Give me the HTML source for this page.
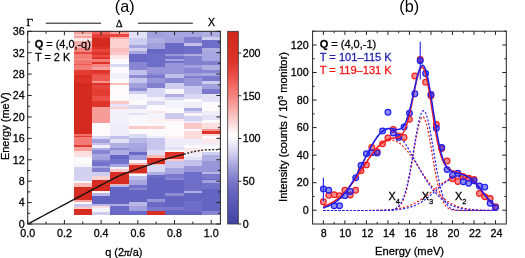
<!DOCTYPE html><html><head><meta charset="utf-8"><style>html,body{margin:0;padding:0;background:#fff;width:525px;height:258px;overflow:hidden}svg{display:block;will-change:transform}text{font-family:"Liberation Sans", sans-serif;stroke:currentColor;stroke-width:0.28px}text[fill]{}</style></head><body>
<svg width="525" height="258" viewBox="0 0 525 258" style="color:#000">
<rect width="525" height="258" fill="#fff"/>
<g shape-rendering="crispEdges">
<rect x="73.58" y="31.30" width="18.35" height="2.68" fill="#f7a19d"/>
<rect x="73.58" y="33.98" width="18.35" height="2.14" fill="#fac8c6"/>
<rect x="73.58" y="36.12" width="18.35" height="2.14" fill="#f7a19d"/>
<rect x="73.58" y="38.26" width="18.35" height="2.68" fill="#fce8e8"/>
<rect x="73.58" y="40.94" width="18.35" height="7.49" fill="#f8aeab"/>
<rect x="73.58" y="48.43" width="18.35" height="3.75" fill="#f58782"/>
<rect x="73.58" y="52.18" width="18.35" height="2.14" fill="#e7453d"/>
<rect x="73.58" y="54.32" width="18.35" height="4.28" fill="#f37c76"/>
<rect x="73.58" y="58.60" width="18.35" height="1.61" fill="#f69490"/>
<rect x="73.58" y="60.21" width="18.35" height="3.75" fill="#f2756f"/>
<rect x="73.58" y="63.95" width="18.35" height="1.07" fill="#ee5952"/>
<rect x="73.58" y="65.02" width="18.35" height="4.82" fill="#f37c76"/>
<rect x="73.58" y="69.84" width="18.35" height="3.21" fill="#e33d33"/>
<rect x="73.58" y="73.05" width="18.35" height="2.14" fill="#e33d33"/>
<rect x="73.58" y="75.19" width="18.35" height="2.68" fill="#d82e24"/>
<rect x="73.58" y="77.87" width="18.35" height="4.82" fill="#dc3228"/>
<rect x="73.58" y="82.69" width="18.35" height="50.85" fill="#d42a20"/>
<rect x="73.58" y="133.54" width="18.35" height="2.46" fill="#f1706a"/>
<rect x="73.58" y="136.00" width="18.35" height="1.28" fill="#e33d33"/>
<rect x="73.58" y="137.29" width="18.35" height="7.49" fill="#f37c76"/>
<rect x="73.58" y="144.78" width="18.35" height="2.68" fill="#e33d33"/>
<rect x="73.58" y="147.46" width="18.35" height="4.01" fill="#f7a19d"/>
<rect x="73.58" y="151.47" width="18.35" height="5.62" fill="#fbdede"/>
<rect x="73.58" y="157.09" width="18.35" height="6.96" fill="#fdfafb"/>
<rect x="73.58" y="164.05" width="18.35" height="2.68" fill="#f5f4fb"/>
<rect x="73.58" y="166.73" width="18.35" height="14.45" fill="#d3d1f0"/>
<rect x="73.58" y="181.18" width="18.35" height="2.14" fill="#faf9fc"/>
<rect x="73.58" y="183.32" width="18.35" height="4.01" fill="#f9bbb8"/>
<rect x="73.58" y="187.33" width="18.35" height="13.11" fill="#d62c22"/>
<rect x="73.58" y="200.45" width="18.35" height="1.61" fill="#f7a19d"/>
<rect x="73.58" y="202.05" width="18.35" height="2.14" fill="#faf9fc"/>
<rect x="73.58" y="204.19" width="18.35" height="2.68" fill="#c8c6ec"/>
<rect x="73.58" y="206.87" width="18.35" height="2.14" fill="#fac8c6"/>
<rect x="73.58" y="209.01" width="18.35" height="5.78" fill="#d62c22"/>
<rect x="91.93" y="31.30" width="18.35" height="2.68" fill="#f0655e"/>
<rect x="91.93" y="33.98" width="18.35" height="1.07" fill="#e7453d"/>
<rect x="91.93" y="35.05" width="18.35" height="3.21" fill="#e33d33"/>
<rect x="91.93" y="38.26" width="18.35" height="9.10" fill="#d42a20"/>
<rect x="91.93" y="47.36" width="18.35" height="1.61" fill="#dc3228"/>
<rect x="91.93" y="48.96" width="18.35" height="3.21" fill="#e7453d"/>
<rect x="91.93" y="52.18" width="18.35" height="2.68" fill="#de342a"/>
<rect x="91.93" y="54.85" width="18.35" height="2.14" fill="#ec4e46"/>
<rect x="91.93" y="56.99" width="18.35" height="1.61" fill="#de342a"/>
<rect x="91.93" y="58.60" width="18.35" height="3.21" fill="#f37c76"/>
<rect x="91.93" y="61.81" width="18.35" height="2.68" fill="#dc3228"/>
<rect x="91.93" y="64.49" width="18.35" height="2.14" fill="#f58782"/>
<rect x="91.93" y="66.63" width="18.35" height="3.21" fill="#f7a19d"/>
<rect x="91.93" y="69.84" width="18.35" height="3.21" fill="#de342a"/>
<rect x="91.93" y="73.05" width="18.35" height="2.14" fill="#e7453d"/>
<rect x="91.93" y="75.19" width="18.35" height="5.35" fill="#ee5952"/>
<rect x="91.93" y="80.55" width="18.35" height="2.14" fill="#f69490"/>
<rect x="91.93" y="82.69" width="18.35" height="2.68" fill="#de342a"/>
<rect x="91.93" y="85.36" width="18.35" height="3.21" fill="#e7453d"/>
<rect x="91.93" y="88.57" width="18.35" height="7.49" fill="#e33d33"/>
<rect x="91.93" y="96.07" width="18.35" height="5.35" fill="#ec4e46"/>
<rect x="91.93" y="101.42" width="18.35" height="5.89" fill="#de342a"/>
<rect x="91.93" y="107.31" width="18.35" height="16.06" fill="#f79c98"/>
<rect x="91.93" y="123.37" width="18.35" height="12.63" fill="#fcfafb"/>
<rect x="91.93" y="136.00" width="18.35" height="3.43" fill="#dad9f3"/>
<rect x="91.93" y="139.43" width="18.35" height="3.75" fill="#a2a0dd"/>
<rect x="91.93" y="143.17" width="18.35" height="2.14" fill="#c2c0ea"/>
<rect x="91.93" y="145.31" width="18.35" height="2.68" fill="#eeedf9"/>
<rect x="91.93" y="147.99" width="18.35" height="2.14" fill="#afade2"/>
<rect x="91.93" y="150.13" width="18.35" height="4.28" fill="#8886d2"/>
<rect x="91.93" y="154.41" width="18.35" height="2.68" fill="#a8a6e0"/>
<rect x="91.93" y="157.09" width="18.35" height="2.68" fill="#a2a0dd"/>
<rect x="91.93" y="159.77" width="18.35" height="2.68" fill="#8281d0"/>
<rect x="91.93" y="162.44" width="18.35" height="3.21" fill="#7372ca"/>
<rect x="91.93" y="165.65" width="18.35" height="2.68" fill="#a8a6e0"/>
<rect x="91.93" y="168.33" width="18.35" height="3.75" fill="#8281d0"/>
<rect x="91.93" y="172.08" width="18.35" height="4.28" fill="#cfceef"/>
<rect x="91.93" y="176.36" width="18.35" height="3.21" fill="#fbd2d0"/>
<rect x="91.93" y="179.57" width="18.35" height="11.24" fill="#d52b21"/>
<rect x="91.93" y="190.81" width="18.35" height="2.14" fill="#fdf3f3"/>
<rect x="91.93" y="192.95" width="18.35" height="2.68" fill="#b9b7e6"/>
<rect x="91.93" y="195.63" width="18.35" height="8.03" fill="#6464c3"/>
<rect x="91.93" y="203.66" width="18.35" height="2.68" fill="#b9b7e6"/>
<rect x="91.93" y="206.34" width="18.35" height="2.14" fill="#fbdede"/>
<rect x="91.93" y="208.48" width="18.35" height="3.48" fill="#f5f4fb"/>
<rect x="91.93" y="211.96" width="18.35" height="2.84" fill="#cfceef"/>
<rect x="110.29" y="31.30" width="18.35" height="2.68" fill="#f7a19d"/>
<rect x="110.29" y="33.98" width="18.35" height="3.21" fill="#e7453d"/>
<rect x="110.29" y="37.19" width="18.35" height="2.14" fill="#f8aeab"/>
<rect x="110.29" y="39.33" width="18.35" height="9.10" fill="#fbd2d0"/>
<rect x="110.29" y="48.43" width="18.35" height="3.75" fill="#f9c0be"/>
<rect x="110.29" y="52.18" width="18.35" height="3.21" fill="#fac8c6"/>
<rect x="110.29" y="55.39" width="18.35" height="3.21" fill="#fce8e8"/>
<rect x="110.29" y="58.60" width="18.35" height="5.89" fill="#faf9fc"/>
<rect x="110.29" y="64.49" width="18.35" height="2.14" fill="#dad9f3"/>
<rect x="110.29" y="66.63" width="18.35" height="6.42" fill="#fdfafb"/>
<rect x="110.29" y="73.05" width="18.35" height="6.42" fill="#f3f2fa"/>
<rect x="110.29" y="79.48" width="18.35" height="3.21" fill="#fcfafb"/>
<rect x="110.29" y="82.69" width="18.35" height="2.14" fill="#f9bbb8"/>
<rect x="110.29" y="84.83" width="18.35" height="16.59" fill="#fdfafb"/>
<rect x="110.29" y="101.42" width="18.35" height="2.68" fill="#fac8c6"/>
<rect x="110.29" y="104.10" width="18.35" height="3.21" fill="#e6e5f7"/>
<rect x="110.29" y="107.31" width="18.35" height="2.14" fill="#fbd2d0"/>
<rect x="110.29" y="109.45" width="18.35" height="13.92" fill="#f3f2fa"/>
<rect x="110.29" y="123.37" width="18.35" height="12.63" fill="#eeedf9"/>
<rect x="110.29" y="136.00" width="18.35" height="3.43" fill="#c2c0ea"/>
<rect x="110.29" y="139.43" width="18.35" height="3.21" fill="#e2e1f5"/>
<rect x="110.29" y="142.64" width="18.35" height="5.35" fill="#afade2"/>
<rect x="110.29" y="147.99" width="18.35" height="2.14" fill="#8e8cd5"/>
<rect x="110.29" y="150.13" width="18.35" height="4.82" fill="#afade2"/>
<rect x="110.29" y="154.95" width="18.35" height="4.28" fill="#6464c3"/>
<rect x="110.29" y="159.23" width="18.35" height="4.28" fill="#7372ca"/>
<rect x="110.29" y="163.51" width="18.35" height="3.21" fill="#a8a6e0"/>
<rect x="110.29" y="166.73" width="18.35" height="2.14" fill="#f3f2fa"/>
<rect x="110.29" y="168.87" width="18.35" height="2.68" fill="#fac8c6"/>
<rect x="110.29" y="171.54" width="18.35" height="12.04" fill="#d62c22"/>
<rect x="110.29" y="183.59" width="18.35" height="1.61" fill="#f8aeab"/>
<rect x="110.29" y="185.19" width="18.35" height="1.34" fill="#b9b7e6"/>
<rect x="110.29" y="186.53" width="18.35" height="17.13" fill="#6464c3"/>
<rect x="110.29" y="203.66" width="18.35" height="2.68" fill="#afade2"/>
<rect x="110.29" y="206.34" width="18.35" height="8.46" fill="#6a6ac6"/>
<rect x="128.64" y="31.30" width="18.35" height="6.42" fill="#e2e1f5"/>
<rect x="128.64" y="37.72" width="18.35" height="7.49" fill="#cfceef"/>
<rect x="128.64" y="45.22" width="18.35" height="2.68" fill="#a8a6e0"/>
<rect x="128.64" y="47.89" width="18.35" height="2.68" fill="#cfceef"/>
<rect x="128.64" y="50.57" width="18.35" height="3.21" fill="#a8a6e0"/>
<rect x="128.64" y="53.78" width="18.35" height="8.03" fill="#6a6ac6"/>
<rect x="128.64" y="61.81" width="18.35" height="8.03" fill="#8886d2"/>
<rect x="128.64" y="69.84" width="18.35" height="4.28" fill="#c2c0ea"/>
<rect x="128.64" y="74.12" width="18.35" height="1.07" fill="#c8c6ec"/>
<rect x="128.64" y="75.19" width="18.35" height="2.68" fill="#8e8cd5"/>
<rect x="128.64" y="77.87" width="18.35" height="5.35" fill="#c8c6ec"/>
<rect x="128.64" y="83.22" width="18.35" height="4.82" fill="#a2a0dd"/>
<rect x="128.64" y="88.04" width="18.35" height="3.21" fill="#8e8cd5"/>
<rect x="128.64" y="91.25" width="18.35" height="2.68" fill="#cfceef"/>
<rect x="128.64" y="93.93" width="18.35" height="5.89" fill="#f5f4fb"/>
<rect x="128.64" y="99.82" width="18.35" height="4.82" fill="#fdfafb"/>
<rect x="128.64" y="104.63" width="18.35" height="4.82" fill="#dad9f3"/>
<rect x="128.64" y="109.45" width="18.35" height="3.21" fill="#f5f4fb"/>
<rect x="128.64" y="112.66" width="18.35" height="2.36" fill="#e2e1f5"/>
<rect x="128.64" y="115.02" width="18.35" height="10.49" fill="#f8f7fb"/>
<rect x="128.64" y="125.51" width="18.35" height="3.21" fill="#fac8c6"/>
<rect x="128.64" y="128.72" width="18.35" height="5.09" fill="#fdfafb"/>
<rect x="128.64" y="133.81" width="18.35" height="4.55" fill="#dad9f3"/>
<rect x="128.64" y="138.36" width="18.35" height="4.28" fill="#b9b7e6"/>
<rect x="128.64" y="142.64" width="18.35" height="5.35" fill="#a8a6e0"/>
<rect x="128.64" y="147.99" width="18.35" height="3.75" fill="#a2a0dd"/>
<rect x="128.64" y="151.74" width="18.35" height="3.75" fill="#6a6ac6"/>
<rect x="128.64" y="155.48" width="18.35" height="4.28" fill="#9e9cdc"/>
<rect x="128.64" y="159.77" width="18.35" height="3.21" fill="#f5f4fb"/>
<rect x="128.64" y="162.98" width="18.35" height="1.61" fill="#f8aeab"/>
<rect x="128.64" y="164.58" width="18.35" height="8.03" fill="#d62c22"/>
<rect x="128.64" y="172.61" width="18.35" height="1.61" fill="#f7a19d"/>
<rect x="128.64" y="174.22" width="18.35" height="2.14" fill="#faf9fc"/>
<rect x="128.64" y="176.36" width="18.35" height="3.75" fill="#c2c0ea"/>
<rect x="128.64" y="180.11" width="18.35" height="4.82" fill="#a8a6e0"/>
<rect x="128.64" y="184.92" width="18.35" height="2.68" fill="#7372ca"/>
<rect x="128.64" y="187.60" width="18.35" height="2.14" fill="#8886d2"/>
<rect x="128.64" y="189.74" width="18.35" height="11.78" fill="#6464c3"/>
<rect x="128.64" y="201.52" width="18.35" height="4.82" fill="#b9b7e6"/>
<rect x="128.64" y="206.34" width="18.35" height="5.09" fill="#a2a0dd"/>
<rect x="128.64" y="211.42" width="18.35" height="3.37" fill="#6a6ac6"/>
<rect x="146.99" y="31.30" width="18.35" height="6.42" fill="#a2a0dd"/>
<rect x="146.99" y="37.72" width="18.35" height="5.35" fill="#afade2"/>
<rect x="146.99" y="43.08" width="18.35" height="5.89" fill="#a2a0dd"/>
<rect x="146.99" y="48.96" width="18.35" height="5.35" fill="#6666c4"/>
<rect x="146.99" y="54.32" width="18.35" height="12.31" fill="#6e6ec8"/>
<rect x="146.99" y="66.63" width="18.35" height="6.42" fill="#9896d9"/>
<rect x="146.99" y="73.05" width="18.35" height="2.14" fill="#8e8cd5"/>
<rect x="146.99" y="75.19" width="18.35" height="2.68" fill="#7a79cd"/>
<rect x="146.99" y="77.87" width="18.35" height="4.82" fill="#9896d9"/>
<rect x="146.99" y="82.69" width="18.35" height="5.35" fill="#8281d0"/>
<rect x="146.99" y="88.04" width="18.35" height="5.89" fill="#dad9f3"/>
<rect x="146.99" y="93.93" width="18.35" height="3.21" fill="#dad9f3"/>
<rect x="146.99" y="97.14" width="18.35" height="2.68" fill="#f3f2fa"/>
<rect x="146.99" y="99.82" width="18.35" height="1.61" fill="#fdf3f3"/>
<rect x="146.99" y="101.42" width="18.35" height="3.21" fill="#dad9f3"/>
<rect x="146.99" y="104.63" width="18.35" height="5.89" fill="#fcfafb"/>
<rect x="146.99" y="110.52" width="18.35" height="2.68" fill="#fce8e8"/>
<rect x="146.99" y="113.20" width="18.35" height="5.35" fill="#f5f4fb"/>
<rect x="146.99" y="118.55" width="18.35" height="4.28" fill="#fdf3f3"/>
<rect x="146.99" y="122.83" width="18.35" height="3.21" fill="#fbf9fc"/>
<rect x="146.99" y="126.04" width="18.35" height="2.68" fill="#fbd2d0"/>
<rect x="146.99" y="128.72" width="18.35" height="7.28" fill="#fcfafb"/>
<rect x="146.99" y="136.00" width="18.35" height="2.36" fill="#eeedf9"/>
<rect x="146.99" y="138.36" width="18.35" height="11.78" fill="#c8c6ec"/>
<rect x="146.99" y="150.13" width="18.35" height="5.35" fill="#deddf4"/>
<rect x="146.99" y="155.48" width="18.35" height="2.14" fill="#f9bbb8"/>
<rect x="146.99" y="157.63" width="18.35" height="5.89" fill="#d82e24"/>
<rect x="146.99" y="163.51" width="18.35" height="1.61" fill="#f9bbb8"/>
<rect x="146.99" y="165.12" width="18.35" height="6.42" fill="#dad9f3"/>
<rect x="146.99" y="171.54" width="18.35" height="3.75" fill="#afade2"/>
<rect x="146.99" y="175.29" width="18.35" height="2.68" fill="#6e6ec8"/>
<rect x="146.99" y="177.97" width="18.35" height="20.88" fill="#6464c3"/>
<rect x="146.99" y="198.84" width="18.35" height="2.68" fill="#9896d9"/>
<rect x="146.99" y="201.52" width="18.35" height="5.35" fill="#6a6ac6"/>
<rect x="146.99" y="206.87" width="18.35" height="4.55" fill="#7a79cd"/>
<rect x="146.99" y="211.42" width="18.35" height="3.37" fill="#d82e24"/>
<rect x="165.34" y="31.30" width="18.35" height="6.42" fill="#a8a6e0"/>
<rect x="165.34" y="37.72" width="18.35" height="5.35" fill="#a2a0dd"/>
<rect x="165.34" y="43.08" width="18.35" height="10.71" fill="#6a6ac6"/>
<rect x="165.34" y="53.78" width="18.35" height="2.68" fill="#9896d9"/>
<rect x="165.34" y="56.46" width="18.35" height="2.14" fill="#7372ca"/>
<rect x="165.34" y="58.60" width="18.35" height="2.14" fill="#a2a0dd"/>
<rect x="165.34" y="60.74" width="18.35" height="2.14" fill="#6e6ec8"/>
<rect x="165.34" y="62.88" width="18.35" height="11.24" fill="#9896d9"/>
<rect x="165.34" y="74.12" width="18.35" height="3.75" fill="#c2c0ea"/>
<rect x="165.34" y="77.87" width="18.35" height="4.82" fill="#8886d2"/>
<rect x="165.34" y="82.69" width="18.35" height="5.89" fill="#cfceef"/>
<rect x="165.34" y="88.57" width="18.35" height="5.35" fill="#f5f4fb"/>
<rect x="165.34" y="93.93" width="18.35" height="2.68" fill="#afade2"/>
<rect x="165.34" y="96.60" width="18.35" height="3.21" fill="#dad9f3"/>
<rect x="165.34" y="99.82" width="18.35" height="8.03" fill="#f5f4fb"/>
<rect x="165.34" y="107.84" width="18.35" height="4.82" fill="#fdfafb"/>
<rect x="165.34" y="112.66" width="18.35" height="5.89" fill="#cccaed"/>
<rect x="165.34" y="118.55" width="18.35" height="2.68" fill="#fce8e8"/>
<rect x="165.34" y="121.23" width="18.35" height="4.28" fill="#fcfafb"/>
<rect x="165.34" y="125.51" width="18.35" height="10.49" fill="#fdfafb"/>
<rect x="165.34" y="136.00" width="18.35" height="2.36" fill="#fdf3f3"/>
<rect x="165.34" y="138.36" width="18.35" height="8.56" fill="#eeedf9"/>
<rect x="165.34" y="146.92" width="18.35" height="2.68" fill="#e2e1f5"/>
<rect x="165.34" y="149.60" width="18.35" height="2.68" fill="#faf9fc"/>
<rect x="165.34" y="152.27" width="18.35" height="3.21" fill="#dc3228"/>
<rect x="165.34" y="155.48" width="18.35" height="3.75" fill="#e0372e"/>
<rect x="165.34" y="159.23" width="18.35" height="2.14" fill="#fac8c6"/>
<rect x="165.34" y="161.37" width="18.35" height="6.42" fill="#c8c6ec"/>
<rect x="165.34" y="167.80" width="18.35" height="5.89" fill="#a8a6e0"/>
<rect x="165.34" y="173.68" width="18.35" height="4.28" fill="#7a79cd"/>
<rect x="165.34" y="177.97" width="18.35" height="2.14" fill="#8886d2"/>
<rect x="165.34" y="180.11" width="18.35" height="13.38" fill="#6464c3"/>
<rect x="165.34" y="193.49" width="18.35" height="2.68" fill="#8e8cd5"/>
<rect x="165.34" y="196.17" width="18.35" height="10.71" fill="#6464c3"/>
<rect x="165.34" y="206.87" width="18.35" height="2.68" fill="#7a79cd"/>
<rect x="165.34" y="209.55" width="18.35" height="5.25" fill="#6464c3"/>
<rect x="183.70" y="31.30" width="18.35" height="5.89" fill="#a8a6e0"/>
<rect x="183.70" y="37.19" width="18.35" height="5.35" fill="#8281d0"/>
<rect x="183.70" y="42.54" width="18.35" height="3.21" fill="#c2c0ea"/>
<rect x="183.70" y="45.75" width="18.35" height="8.03" fill="#6e6ec8"/>
<rect x="183.70" y="53.78" width="18.35" height="2.68" fill="#afade2"/>
<rect x="183.70" y="56.46" width="18.35" height="8.56" fill="#8281d0"/>
<rect x="183.70" y="65.02" width="18.35" height="3.21" fill="#a2a0dd"/>
<rect x="183.70" y="68.23" width="18.35" height="4.82" fill="#8886d2"/>
<rect x="183.70" y="73.05" width="18.35" height="2.68" fill="#a2a0dd"/>
<rect x="183.70" y="75.73" width="18.35" height="2.41" fill="#8281d0"/>
<rect x="183.70" y="78.14" width="18.35" height="7.76" fill="#9896d9"/>
<rect x="183.70" y="85.90" width="18.35" height="8.03" fill="#c8c6ec"/>
<rect x="183.70" y="93.93" width="18.35" height="5.35" fill="#dad9f3"/>
<rect x="183.70" y="99.28" width="18.35" height="3.21" fill="#faf9fc"/>
<rect x="183.70" y="102.49" width="18.35" height="5.35" fill="#eeedf9"/>
<rect x="183.70" y="107.84" width="18.35" height="2.68" fill="#afade2"/>
<rect x="183.70" y="110.52" width="18.35" height="2.14" fill="#d3d1f0"/>
<rect x="183.70" y="112.66" width="18.35" height="3.21" fill="#fdf3f3"/>
<rect x="183.70" y="115.87" width="18.35" height="4.82" fill="#d3d1f0"/>
<rect x="183.70" y="120.69" width="18.35" height="2.68" fill="#eeedf9"/>
<rect x="183.70" y="123.37" width="18.35" height="5.35" fill="#fac8c6"/>
<rect x="183.70" y="128.72" width="18.35" height="2.68" fill="#fbf9fc"/>
<rect x="183.70" y="131.40" width="18.35" height="8.03" fill="#fbdbda"/>
<rect x="183.70" y="139.43" width="18.35" height="5.89" fill="#eeedf9"/>
<rect x="183.70" y="145.31" width="18.35" height="2.68" fill="#fcfafb"/>
<rect x="183.70" y="147.99" width="18.35" height="4.82" fill="#fce8e8"/>
<rect x="183.70" y="152.81" width="18.35" height="4.28" fill="#eeedf9"/>
<rect x="183.70" y="157.09" width="18.35" height="3.21" fill="#e2e1f5"/>
<rect x="183.70" y="160.30" width="18.35" height="5.89" fill="#c2c0ea"/>
<rect x="183.70" y="166.19" width="18.35" height="5.35" fill="#9896d9"/>
<rect x="183.70" y="171.54" width="18.35" height="19.27" fill="#6e6ec8"/>
<rect x="183.70" y="190.81" width="18.35" height="2.68" fill="#afade2"/>
<rect x="183.70" y="193.49" width="18.35" height="7.49" fill="#6464c3"/>
<rect x="183.70" y="200.98" width="18.35" height="11.24" fill="#6e6ec8"/>
<rect x="183.70" y="212.22" width="18.35" height="2.57" fill="#6262c1"/>
<rect x="202.05" y="31.30" width="18.35" height="6.16" fill="#afade2"/>
<rect x="202.05" y="37.46" width="18.35" height="2.94" fill="#cfceef"/>
<rect x="202.05" y="40.40" width="18.35" height="7.49" fill="#6e6ec8"/>
<rect x="202.05" y="47.89" width="18.35" height="2.68" fill="#afade2"/>
<rect x="202.05" y="50.57" width="18.35" height="10.71" fill="#a8a6e0"/>
<rect x="202.05" y="61.28" width="18.35" height="3.75" fill="#8281d0"/>
<rect x="202.05" y="65.02" width="18.35" height="4.82" fill="#afade2"/>
<rect x="202.05" y="69.84" width="18.35" height="3.21" fill="#8886d2"/>
<rect x="202.05" y="73.05" width="18.35" height="2.68" fill="#a8a6e0"/>
<rect x="202.05" y="75.73" width="18.35" height="4.82" fill="#7a79cd"/>
<rect x="202.05" y="80.55" width="18.35" height="3.75" fill="#cfceef"/>
<rect x="202.05" y="84.29" width="18.35" height="4.82" fill="#a2a0dd"/>
<rect x="202.05" y="89.11" width="18.35" height="5.35" fill="#7a79cd"/>
<rect x="202.05" y="94.46" width="18.35" height="8.03" fill="#e2e1f5"/>
<rect x="202.05" y="102.49" width="18.35" height="8.03" fill="#fdfafb"/>
<rect x="202.05" y="110.52" width="18.35" height="4.50" fill="#eeedf9"/>
<rect x="202.05" y="115.02" width="18.35" height="5.14" fill="#e2e1f5"/>
<rect x="202.05" y="120.16" width="18.35" height="3.21" fill="#fcfafb"/>
<rect x="202.05" y="123.37" width="18.35" height="5.35" fill="#fbdede"/>
<rect x="202.05" y="128.72" width="18.35" height="2.68" fill="#f69490"/>
<rect x="202.05" y="131.40" width="18.35" height="2.68" fill="#de342a"/>
<rect x="202.05" y="134.07" width="18.35" height="1.93" fill="#fbdede"/>
<rect x="202.05" y="136.00" width="18.35" height="3.43" fill="#fbf9fc"/>
<rect x="202.05" y="139.43" width="18.35" height="3.21" fill="#fce8e8"/>
<rect x="202.05" y="142.64" width="18.35" height="2.68" fill="#eeedf9"/>
<rect x="202.05" y="145.31" width="18.35" height="3.21" fill="#faf9fc"/>
<rect x="202.05" y="148.53" width="18.35" height="3.75" fill="#fcfafb"/>
<rect x="202.05" y="152.27" width="18.35" height="3.21" fill="#cfceef"/>
<rect x="202.05" y="155.48" width="18.35" height="5.89" fill="#afade2"/>
<rect x="202.05" y="161.37" width="18.35" height="10.17" fill="#9896d9"/>
<rect x="202.05" y="171.54" width="18.35" height="2.68" fill="#b9b7e6"/>
<rect x="202.05" y="174.22" width="18.35" height="4.82" fill="#7a79cd"/>
<rect x="202.05" y="179.04" width="18.35" height="1.07" fill="#6a6ac6"/>
<rect x="202.05" y="180.11" width="18.35" height="2.68" fill="#a2a0dd"/>
<rect x="202.05" y="182.78" width="18.35" height="6.42" fill="#7372ca"/>
<rect x="202.05" y="189.21" width="18.35" height="21.95" fill="#6464c3"/>
<rect x="202.05" y="211.15" width="18.35" height="3.64" fill="#8886d2"/>
</g>
<path d="M27.70,224.00 L29.93,222.81 L32.75,221.32 L36.05,219.56 L39.76,217.59 L43.79,215.45 L48.06,213.19 L52.47,210.85 L56.94,208.47 L61.38,206.12 L65.72,203.82 L69.85,201.63 L73.70,199.60 L77.44,197.62 L81.29,195.58 L85.20,193.51 L89.12,191.43 L93.02,189.36 L96.85,187.34 L100.57,185.38 L104.13,183.50 L107.50,181.75 L110.63,180.13 L113.48,178.67 L116.00,177.40 L118.14,176.35 L119.90,175.50 L121.35,174.83 L122.54,174.30 L123.54,173.88 L124.39,173.55 L125.17,173.27 L125.94,173.01 L126.74,172.75 L127.65,172.45 L128.71,172.07 L130.00,171.60 L131.47,171.05 L133.04,170.48 L134.70,169.89 L136.41,169.29 L138.16,168.68 L139.94,168.07 L141.72,167.46 L143.48,166.85 L145.21,166.26 L146.89,165.68 L148.49,165.13 L150.00,164.60 L151.41,164.10 L152.75,163.62 L154.01,163.15 L155.23,162.70 L156.41,162.26 L157.58,161.83 L158.73,161.41 L159.90,160.99 L161.10,160.57 L162.34,160.15 L163.63,159.73 L165.00,159.30 L166.49,158.85 L168.13,158.38 L169.87,157.89 L171.68,157.40 L173.52,156.90 L175.34,156.42 L177.11,155.95 L178.79,155.51 L180.33,155.11 L181.71,154.75 L182.88,154.45 L183.80,154.20" fill="none" stroke="#111" stroke-width="1.3"/>
<path d="M183.80,154.20 L184.25,154.08 L184.80,153.93 L185.46,153.75 L186.19,153.54 L186.99,153.32 L187.84,153.09 L188.71,152.86 L189.61,152.62 L190.50,152.39 L191.37,152.18 L192.21,151.98 L193.00,151.80 L193.76,151.64 L194.51,151.49 L195.26,151.34 L196.01,151.20 L196.76,151.07 L197.51,150.94 L198.26,150.82 L199.01,150.70 L199.75,150.59 L200.50,150.49 L201.25,150.39 L202.00,150.30 L202.75,150.22 L203.50,150.14 L204.24,150.08 L204.99,150.01 L205.73,149.96 L206.47,149.91 L207.22,149.87 L207.97,149.83 L208.72,149.79 L209.48,149.76 L210.24,149.73 L211.00,149.70 L211.80,149.67 L212.65,149.65 L213.54,149.64 L214.45,149.63 L215.36,149.62 L216.26,149.61 L217.13,149.61 L217.95,149.61 L218.70,149.61 L219.37,149.61 L219.94,149.60 L220.40,149.60" fill="none" stroke="#111" stroke-width="1.3" stroke-dasharray="1.9,1.7"/>
<rect x="27.70" y="31.30" width="192.70" height="192.70" fill="none" stroke="#222" stroke-width="1"/>
<path d="M27.70,224.00 v-4.00 M27.70,31.30 v4.00 M46.05,224.00 v-2.50 M46.05,31.30 v2.50 M64.40,224.00 v-4.00 M64.40,31.30 v4.00 M82.76,224.00 v-2.50 M82.76,31.30 v2.50 M101.11,224.00 v-4.00 M101.11,31.30 v4.00 M119.46,224.00 v-2.50 M119.46,31.30 v2.50 M137.81,224.00 v-4.00 M137.81,31.30 v4.00 M156.17,224.00 v-2.50 M156.17,31.30 v2.50 M174.52,224.00 v-4.00 M174.52,31.30 v4.00 M192.87,224.00 v-2.50 M192.87,31.30 v2.50 M211.22,224.00 v-4.00 M211.22,31.30 v4.00 M27.70,224.00 h4.00 M220.40,224.00 h-4.00 M27.70,213.29 h2.50 M220.40,213.29 h-2.50 M27.70,202.59 h4.00 M220.40,202.59 h-4.00 M27.70,191.88 h2.50 M220.40,191.88 h-2.50 M27.70,181.18 h4.00 M220.40,181.18 h-4.00 M27.70,170.47 h2.50 M220.40,170.47 h-2.50 M27.70,159.77 h4.00 M220.40,159.77 h-4.00 M27.70,149.06 h2.50 M220.40,149.06 h-2.50 M27.70,138.36 h4.00 M220.40,138.36 h-4.00 M27.70,127.65 h2.50 M220.40,127.65 h-2.50 M27.70,116.94 h4.00 M220.40,116.94 h-4.00 M27.70,106.24 h2.50 M220.40,106.24 h-2.50 M27.70,95.53 h4.00 M220.40,95.53 h-4.00 M27.70,84.83 h2.50 M220.40,84.83 h-2.50 M27.70,74.12 h4.00 M220.40,74.12 h-4.00 M27.70,63.42 h2.50 M220.40,63.42 h-2.50 M27.70,52.71 h4.00 M220.40,52.71 h-4.00 M27.70,42.01 h2.50 M220.40,42.01 h-2.50 M27.70,31.30 h4.00 M220.40,31.30 h-4.00" stroke="#222" stroke-width="1" fill="none"/>
<text x="24.6" y="227.80" font-size="10.7" text-anchor="end">0</text>
<text x="24.6" y="206.39" font-size="10.7" text-anchor="end">4</text>
<text x="24.6" y="184.98" font-size="10.7" text-anchor="end">8</text>
<text x="24.6" y="163.57" font-size="10.7" text-anchor="end">12</text>
<text x="24.6" y="142.16" font-size="10.7" text-anchor="end">16</text>
<text x="24.6" y="120.74" font-size="10.7" text-anchor="end">20</text>
<text x="24.6" y="99.33" font-size="10.7" text-anchor="end">24</text>
<text x="24.6" y="77.92" font-size="10.7" text-anchor="end">28</text>
<text x="24.6" y="56.51" font-size="10.7" text-anchor="end">32</text>
<text x="24.6" y="35.10" font-size="10.7" text-anchor="end">36</text>
<text x="27.70" y="237.3" font-size="10.7" text-anchor="middle">0.0</text>
<text x="64.40" y="237.3" font-size="10.7" text-anchor="middle">0.2</text>
<text x="101.11" y="237.3" font-size="10.7" text-anchor="middle">0.4</text>
<text x="137.81" y="237.3" font-size="10.7" text-anchor="middle">0.6</text>
<text x="174.52" y="237.3" font-size="10.7" text-anchor="middle">0.8</text>
<text x="211.22" y="237.3" font-size="10.7" text-anchor="middle">1.0</text>
<text x="123.8" y="256" font-size="11" text-anchor="middle">q (2<tspan font-family='Liberation Serif, serif' font-style="italic">π</tspan>/a)</text>
<text transform="translate(9.3,126.2) rotate(-90)" font-size="11" text-anchor="middle">Energy (meV)</text>
<text x="34.8" y="48.2" font-size="10.9"><tspan font-weight="bold">Q</tspan> = (4,0,-q)</text>
<text x="35" y="61.2" font-size="10.9">T = 2 K</text>
<text x="124.7" y="11.7" font-size="16.2" text-anchor="middle" style="stroke-width:0">(a)</text>
<text x="26.4" y="26.2" font-size="11.3" style="font-family:'Liberation Serif',serif">Γ</text>
<text x="119.3" y="26.5" font-size="10.2" style="font-family:'Liberation Serif',serif" text-anchor="middle">Δ</text>
<text x="211.4" y="26" font-size="10.5" text-anchor="middle">X</text>
<path d="M45.8,23.2 H101.1 M138,23.2 H192.9" stroke="#111" stroke-width="1"/>
<defs><linearGradient id="cb" x1="0" y1="1" x2="0" y2="0">
<stop offset="0.0000" stop-color="#4242a3"/>
<stop offset="0.0887" stop-color="#5454b2"/>
<stop offset="0.1775" stop-color="#6a68c1"/>
<stop offset="0.2218" stop-color="#7c78ca"/>
<stop offset="0.2662" stop-color="#9490d6"/>
<stop offset="0.3328" stop-color="#bcb9e7"/>
<stop offset="0.3993" stop-color="#e4e2f6"/>
<stop offset="0.4437" stop-color="#faf9fd"/>
<stop offset="0.4659" stop-color="#fffdfd"/>
<stop offset="0.5102" stop-color="#fce1e1"/>
<stop offset="0.5635" stop-color="#fac0be"/>
<stop offset="0.6655" stop-color="#f58480"/>
<stop offset="0.7720" stop-color="#ec4e46"/>
<stop offset="0.8430" stop-color="#de342a"/>
<stop offset="0.9983" stop-color="#d0261c"/>
<stop offset="1" stop-color="#d0261c"/>
</linearGradient></defs>
<rect x="227.70" y="31.30" width="10.60" height="192.70" fill="url(#cb)" stroke="#333" stroke-width="0.8"/>
<text x="242.7" y="227.80" font-size="10.7">0</text>
<text x="242.7" y="185.05" font-size="10.7">50</text>
<text x="242.7" y="142.30" font-size="10.7">100</text>
<text x="242.7" y="99.55" font-size="10.7">150</text>
<text x="242.7" y="56.80" font-size="10.7">200</text>
<path d="M238.30,224.00 h3 M238.30,181.25 h3 M238.30,138.50 h3 M238.30,95.75 h3 M238.30,53.00 h3" stroke="#222" stroke-width="1"/>
<text x="409.2" y="11.7" font-size="16.2" text-anchor="middle" style="stroke-width:0">(b)</text>
<g transform="translate(0,0.29)">
<path d="M323.36,206.41 L324.22,206.12 L325.08,205.81 L325.94,205.48 L326.80,205.13 L327.67,204.76 L328.53,204.37 L329.39,203.96 L330.25,203.52 L331.11,203.06 L331.97,202.58 L332.83,202.07 L333.69,201.54 L334.55,200.98 L335.41,200.39 L336.27,199.77 L337.14,199.13 L338.00,198.46 L338.86,197.76 L339.72,197.03 L340.58,196.27 L341.44,195.49 L342.30,194.67 L343.16,193.82 L344.02,192.95 L344.88,192.04 L345.74,191.10 L346.61,190.14 L347.47,189.14 L348.33,188.12 L349.19,187.07 L350.05,186.00 L350.91,184.89 L351.77,183.77 L352.63,182.61 L353.49,181.44 L354.35,180.24 L355.21,179.03 L356.07,177.79 L356.94,176.54 L357.80,175.27 L358.66,173.99 L359.52,172.70 L360.38,171.40 L361.24,170.09 L362.10,168.78 L362.96,167.46 L363.82,166.15 L364.68,164.83 L365.54,163.53 L366.41,162.23 L367.27,160.94 L368.13,159.66 L368.99,158.40 L369.85,157.16 L370.71,155.94 L371.57,154.74 L372.43,153.58 L373.29,152.44 L374.15,151.33 L375.01,150.26 L375.88,149.23 L376.74,148.24 L377.60,147.30 L378.46,146.40 L379.32,145.55 L380.18,144.75 L381.04,144.00 L381.90,143.30 L382.76,142.67 L383.62,142.09 L384.48,141.57 L385.35,141.12 L386.21,140.72 L387.07,140.39 L387.93,140.13 L388.79,139.93 L389.65,139.79 L390.51,139.73 L391.37,139.73 L392.23,139.79 L393.09,139.93 L393.95,140.13 L394.81,140.39 L395.68,140.72 L396.54,141.12 L397.40,141.57 L398.26,142.09 L399.12,142.67 L399.98,143.30 L400.84,144.00 L401.70,144.75 L402.56,145.55 L403.42,146.40 L404.28,147.30 L405.15,148.24 L406.01,149.23 L406.87,150.26 L407.73,151.33 L408.59,152.44 L409.45,153.58 L410.31,154.74 L411.17,155.94 L412.03,157.16 L412.89,158.40 L413.75,159.66 L414.62,160.94 L415.48,162.23 L416.34,163.53 L417.20,164.83 L418.06,166.15 L418.92,167.46 L419.78,168.78 L420.64,170.09 L421.50,171.40 L422.36,172.70 L423.22,173.99 L424.09,175.27 L424.95,176.54 L425.81,177.79 L426.67,179.03 L427.53,180.24 L428.39,181.44 L429.25,182.61 L430.11,183.77 L430.97,184.89 L431.83,186.00 L432.69,187.07 L433.55,188.12 L434.42,189.14 L435.28,190.14 L436.14,191.10 L437.00,192.04 L437.86,192.95 L438.72,193.82 L439.58,194.67 L440.44,195.49 L441.30,196.27 L442.16,197.03 L443.02,197.76 L443.89,198.46 L444.75,199.13 L445.61,199.77 L446.47,200.39 L447.33,200.98 L448.19,201.54 L449.05,202.07 L449.91,202.58 L450.77,203.06 L451.63,203.52 L452.49,203.96 L453.36,204.37 L454.22,204.76 L455.08,205.13 L455.94,205.48 L456.80,205.81 L457.66,206.12 L458.52,206.41 L459.38,206.69 L460.24,206.95 L461.10,207.19 L461.96,207.42 L462.83,207.63 L463.69,207.83 L464.55,208.01 L465.41,208.19 L466.27,208.35 L467.13,208.50 L467.99,208.64 L468.85,208.77 L469.71,208.89 L470.57,209.00 L471.43,209.10 L472.29,209.20 L473.16,209.29 L474.02,209.37 L474.88,209.45 L475.74,209.51 L476.60,209.58 L477.46,209.64 L478.32,209.69 L479.18,209.74 L480.04,209.79 L480.90,209.83 L481.76,209.87 L482.63,209.90 L483.49,209.93 L484.35,209.96 L485.21,209.99 L486.07,210.01 L486.93,210.03 L487.79,210.05 L488.65,210.07 L489.51,210.09 L490.37,210.10 L491.23,210.11 L492.10,210.13 L492.96,210.14 L493.82,210.15 L494.68,210.16 L495.54,210.16" fill="none" stroke="#f01e1e" stroke-width="1.2" stroke-dasharray="2.1,1.7"/>
<path d="M323.36,210.23 L324.22,210.23 L325.08,210.23 L325.94,210.23 L326.80,210.23 L327.67,210.23 L328.53,210.23 L329.39,210.23 L330.25,210.23 L331.11,210.23 L331.97,210.23 L332.83,210.23 L333.69,210.23 L334.55,210.23 L335.41,210.23 L336.27,210.23 L337.14,210.23 L338.00,210.23 L338.86,210.23 L339.72,210.23 L340.58,210.23 L341.44,210.23 L342.30,210.23 L343.16,210.23 L344.02,210.23 L344.88,210.23 L345.74,210.23 L346.61,210.23 L347.47,210.23 L348.33,210.23 L349.19,210.23 L350.05,210.23 L350.91,210.23 L351.77,210.23 L352.63,210.23 L353.49,210.23 L354.35,210.23 L355.21,210.23 L356.07,210.23 L356.94,210.23 L357.80,210.23 L358.66,210.23 L359.52,210.23 L360.38,210.23 L361.24,210.23 L362.10,210.23 L362.96,210.23 L363.82,210.23 L364.68,210.23 L365.54,210.23 L366.41,210.23 L367.27,210.23 L368.13,210.23 L368.99,210.23 L369.85,210.23 L370.71,210.23 L371.57,210.23 L372.43,210.23 L373.29,210.23 L374.15,210.23 L375.01,210.23 L375.88,210.23 L376.74,210.23 L377.60,210.23 L378.46,210.23 L379.32,210.23 L380.18,210.23 L381.04,210.22 L381.90,210.22 L382.76,210.22 L383.62,210.21 L384.48,210.21 L385.35,210.20 L386.21,210.18 L387.07,210.16 L387.93,210.14 L388.79,210.10 L389.65,210.05 L390.51,209.98 L391.37,209.89 L392.23,209.77 L393.09,209.62 L393.95,209.41 L394.81,209.15 L395.68,208.82 L396.54,208.39 L397.40,207.86 L398.26,207.21 L399.12,206.40 L399.98,205.42 L400.84,204.24 L401.70,202.83 L402.56,201.16 L403.42,199.21 L404.28,196.96 L405.15,194.38 L406.01,191.47 L406.87,188.20 L407.73,184.57 L408.59,180.61 L409.45,176.32 L410.31,171.73 L411.17,166.89 L412.03,161.86 L412.89,156.69 L413.75,151.47 L414.62,146.29 L415.48,141.23 L416.34,136.40 L417.20,131.90 L418.06,127.83 L418.92,124.27 L419.78,121.31 L420.64,119.02 L421.50,117.47 L422.36,116.68 L423.22,116.68 L424.09,117.47 L424.95,119.02 L425.81,121.31 L426.67,124.27 L427.53,127.83 L428.39,131.90 L429.25,136.40 L430.11,141.23 L430.97,146.29 L431.83,151.47 L432.69,156.69 L433.55,161.86 L434.42,166.89 L435.28,171.73 L436.14,176.32 L437.00,180.61 L437.86,184.57 L438.72,188.20 L439.58,191.47 L440.44,194.38 L441.30,196.96 L442.16,199.21 L443.02,201.16 L443.89,202.83 L444.75,204.24 L445.61,205.42 L446.47,206.40 L447.33,207.21 L448.19,207.86 L449.05,208.39 L449.91,208.82 L450.77,209.15 L451.63,209.41 L452.49,209.62 L453.36,209.77 L454.22,209.89 L455.08,209.98 L455.94,210.05 L456.80,210.10 L457.66,210.14 L458.52,210.16 L459.38,210.18 L460.24,210.20 L461.10,210.21 L461.96,210.21 L462.83,210.22 L463.69,210.22 L464.55,210.22 L465.41,210.23 L466.27,210.23 L467.13,210.23 L467.99,210.23 L468.85,210.23 L469.71,210.23 L470.57,210.23 L471.43,210.23 L472.29,210.23 L473.16,210.23 L474.02,210.23 L474.88,210.23 L475.74,210.23 L476.60,210.23 L477.46,210.23 L478.32,210.23 L479.18,210.23 L480.04,210.23 L480.90,210.23 L481.76,210.23 L482.63,210.23 L483.49,210.23 L484.35,210.23 L485.21,210.23 L486.07,210.23 L486.93,210.23 L487.79,210.23 L488.65,210.23 L489.51,210.23 L490.37,210.23 L491.23,210.23 L492.10,210.23 L492.96,210.23 L493.82,210.23 L494.68,210.23 L495.54,210.23" fill="none" stroke="#f01e1e" stroke-width="1.2" stroke-dasharray="2.1,1.7"/>
<path d="M323.36,210.23 L324.22,210.23 L325.08,210.23 L325.94,210.23 L326.80,210.23 L327.67,210.23 L328.53,210.23 L329.39,210.23 L330.25,210.23 L331.11,210.23 L331.97,210.23 L332.83,210.23 L333.69,210.23 L334.55,210.23 L335.41,210.23 L336.27,210.23 L337.14,210.23 L338.00,210.23 L338.86,210.23 L339.72,210.23 L340.58,210.23 L341.44,210.23 L342.30,210.23 L343.16,210.23 L344.02,210.23 L344.88,210.23 L345.74,210.23 L346.61,210.23 L347.47,210.23 L348.33,210.23 L349.19,210.23 L350.05,210.23 L350.91,210.22 L351.77,210.22 L352.63,210.22 L353.49,210.22 L354.35,210.22 L355.21,210.22 L356.07,210.22 L356.94,210.22 L357.80,210.22 L358.66,210.22 L359.52,210.21 L360.38,210.21 L361.24,210.21 L362.10,210.21 L362.96,210.20 L363.82,210.20 L364.68,210.20 L365.54,210.19 L366.41,210.19 L367.27,210.18 L368.13,210.18 L368.99,210.17 L369.85,210.16 L370.71,210.15 L371.57,210.14 L372.43,210.13 L373.29,210.12 L374.15,210.11 L375.01,210.09 L375.88,210.08 L376.74,210.06 L377.60,210.04 L378.46,210.02 L379.32,209.99 L380.18,209.96 L381.04,209.94 L381.90,209.90 L382.76,209.87 L383.62,209.83 L384.48,209.79 L385.35,209.74 L386.21,209.69 L387.07,209.63 L387.93,209.57 L388.79,209.51 L389.65,209.44 L390.51,209.36 L391.37,209.28 L392.23,209.19 L393.09,209.09 L393.95,208.99 L394.81,208.88 L395.68,208.75 L396.54,208.62 L397.40,208.48 L398.26,208.33 L399.12,208.17 L399.98,208.00 L400.84,207.82 L401.70,207.63 L402.56,207.42 L403.42,207.20 L404.28,206.97 L405.15,206.72 L406.01,206.46 L406.87,206.18 L407.73,205.89 L408.59,205.58 L409.45,205.26 L410.31,204.92 L411.17,204.57 L412.03,204.19 L412.89,203.80 L413.75,203.40 L414.62,202.97 L415.48,202.53 L416.34,202.07 L417.20,201.59 L418.06,201.10 L418.92,200.59 L419.78,200.06 L420.64,199.52 L421.50,198.96 L422.36,198.38 L423.22,197.79 L424.09,197.19 L424.95,196.57 L425.81,195.94 L426.67,195.29 L427.53,194.64 L428.39,193.97 L429.25,193.30 L430.11,192.62 L430.97,191.93 L431.83,191.24 L432.69,190.55 L433.55,189.85 L434.42,189.15 L435.28,188.46 L436.14,187.77 L437.00,187.08 L437.86,186.40 L438.72,185.73 L439.58,185.07 L440.44,184.42 L441.30,183.78 L442.16,183.16 L443.02,182.56 L443.89,181.97 L444.75,181.41 L445.61,180.87 L446.47,180.36 L447.33,179.87 L448.19,179.41 L449.05,178.98 L449.91,178.58 L450.77,178.21 L451.63,177.87 L452.49,177.57 L453.36,177.30 L454.22,177.07 L455.08,176.88 L455.94,176.73 L456.80,176.61 L457.66,176.53 L458.52,176.49 L459.38,176.49 L460.24,176.49 L461.10,176.51 L461.96,176.55 L462.83,176.62 L463.69,176.72 L464.55,176.86 L465.41,177.03 L466.27,177.26 L467.13,177.54 L467.99,177.87 L468.85,178.26 L469.71,178.71 L470.57,179.22 L471.43,179.80 L472.29,180.44 L473.16,181.14 L474.02,181.90 L474.88,182.72 L475.74,183.60 L476.60,184.53 L477.46,185.51 L478.32,186.53 L479.18,187.59 L480.04,188.68 L480.90,189.80 L481.76,190.93 L482.63,192.07 L483.49,193.22 L484.35,194.36 L485.21,195.49 L486.07,196.60 L486.93,197.68 L487.79,198.74 L488.65,199.75 L489.51,200.72 L490.37,201.65 L491.23,202.52 L492.10,203.35 L492.96,204.11 L493.82,204.83 L494.68,205.48 L495.54,206.08" fill="none" stroke="#f01e1e" stroke-width="1.2" stroke-dasharray="2.1,1.7"/>
<path d="M323.36,207.67 L324.22,207.43 L325.08,207.17 L325.94,206.89 L326.80,206.58 L327.67,206.25 L328.53,205.90 L329.39,205.52 L330.25,205.12 L331.11,204.69 L331.97,204.22 L332.83,203.73 L333.69,203.21 L334.55,202.65 L335.41,202.06 L336.27,201.43 L337.14,200.77 L338.00,200.07 L338.86,199.33 L339.72,198.55 L340.58,197.73 L341.44,196.86 L342.30,195.96 L343.16,195.01 L344.02,194.02 L344.88,192.99 L345.74,191.91 L346.61,190.79 L347.47,189.62 L348.33,188.42 L349.19,187.16 L350.05,185.87 L350.91,184.53 L351.77,183.16 L352.63,181.74 L353.49,180.29 L354.35,178.80 L355.21,177.28 L356.07,175.72 L356.94,174.13 L357.80,172.52 L358.66,170.89 L359.52,169.23 L360.38,167.55 L361.24,165.86 L362.10,164.16 L362.96,162.45 L363.82,160.73 L364.68,159.02 L365.54,157.31 L366.41,155.61 L367.27,153.93 L368.13,152.26 L368.99,150.61 L369.85,149.00 L370.71,147.41 L371.57,145.86 L372.43,144.36 L373.29,142.90 L374.15,141.49 L375.01,140.13 L375.88,138.84 L376.74,137.61 L377.60,136.45 L378.46,135.36 L379.32,134.34 L380.18,133.41 L381.04,132.55 L381.90,131.79 L382.76,131.11 L383.62,130.52 L384.48,130.02 L385.35,129.62 L386.21,129.32 L387.07,129.11 L387.93,129.00 L388.79,128.98 L389.65,129.06 L390.51,129.21 L391.37,129.45 L392.23,129.77 L393.09,130.17 L393.95,130.65 L394.81,131.21 L395.68,131.84 L396.54,132.55 L397.40,133.33 L398.26,134.19 L399.12,135.10 L399.98,136.09 L400.84,137.13 L401.70,138.24 L402.56,139.40 L403.42,140.61 L404.28,141.88 L405.15,143.18 L406.01,144.54 L406.87,145.92 L407.73,147.35 L408.59,148.80 L409.45,150.29 L410.31,151.80 L411.17,153.32 L412.03,154.87 L412.89,156.43 L413.75,157.99 L414.62,159.57 L415.48,161.14 L416.34,162.72 L417.20,164.29 L418.06,165.86 L418.92,167.42 L419.78,168.96 L420.64,170.49 L421.50,172.00 L422.36,173.49 L423.22,174.96 L424.09,176.41 L424.95,177.83 L425.81,179.22 L426.67,180.58 L427.53,181.91 L428.39,183.21 L429.25,184.48 L430.11,185.71 L430.97,186.91 L431.83,188.07 L432.69,189.19 L433.55,190.28 L434.42,191.33 L435.28,192.35 L436.14,193.32 L437.00,194.26 L437.86,195.17 L438.72,196.03 L439.58,196.86 L440.44,197.66 L441.30,198.42 L442.16,199.14 L443.02,199.84 L443.89,200.49 L444.75,201.12 L445.61,201.71 L446.47,202.28 L447.33,202.81 L448.19,203.32 L449.05,203.79 L449.91,204.24 L450.77,204.67 L451.63,205.07 L452.49,205.44 L453.36,205.80 L454.22,206.13 L455.08,206.44 L455.94,206.73 L456.80,207.00 L457.66,207.25 L458.52,207.49 L459.38,207.71 L460.24,207.92 L461.10,208.11 L461.96,208.28 L462.83,208.45 L463.69,208.60 L464.55,208.74 L465.41,208.87 L466.27,208.99 L467.13,209.10 L467.99,209.20 L468.85,209.29 L469.71,209.38 L470.57,209.46 L471.43,209.53 L472.29,209.60 L473.16,209.66 L474.02,209.71 L474.88,209.76 L475.74,209.81 L476.60,209.85 L477.46,209.89 L478.32,209.92 L479.18,209.95 L480.04,209.98 L480.90,210.01 L481.76,210.03 L482.63,210.05 L483.49,210.07 L484.35,210.09 L485.21,210.10 L486.07,210.12 L486.93,210.13 L487.79,210.14 L488.65,210.15 L489.51,210.16 L490.37,210.17 L491.23,210.17 L492.10,210.18 L492.96,210.19 L493.82,210.19 L494.68,210.20 L495.54,210.20" fill="none" stroke="#1e1ef0" stroke-width="1.2" stroke-dasharray="2.1,1.7"/>
<path d="M323.36,210.23 L324.22,210.23 L325.08,210.23 L325.94,210.23 L326.80,210.23 L327.67,210.23 L328.53,210.23 L329.39,210.23 L330.25,210.23 L331.11,210.23 L331.97,210.23 L332.83,210.23 L333.69,210.23 L334.55,210.23 L335.41,210.23 L336.27,210.23 L337.14,210.23 L338.00,210.23 L338.86,210.23 L339.72,210.23 L340.58,210.23 L341.44,210.23 L342.30,210.23 L343.16,210.23 L344.02,210.23 L344.88,210.23 L345.74,210.23 L346.61,210.23 L347.47,210.23 L348.33,210.23 L349.19,210.23 L350.05,210.23 L350.91,210.23 L351.77,210.23 L352.63,210.23 L353.49,210.23 L354.35,210.23 L355.21,210.23 L356.07,210.23 L356.94,210.23 L357.80,210.23 L358.66,210.23 L359.52,210.23 L360.38,210.23 L361.24,210.23 L362.10,210.23 L362.96,210.23 L363.82,210.23 L364.68,210.23 L365.54,210.23 L366.41,210.23 L367.27,210.23 L368.13,210.23 L368.99,210.23 L369.85,210.23 L370.71,210.23 L371.57,210.23 L372.43,210.23 L373.29,210.23 L374.15,210.23 L375.01,210.23 L375.88,210.23 L376.74,210.23 L377.60,210.23 L378.46,210.23 L379.32,210.22 L380.18,210.22 L381.04,210.22 L381.90,210.21 L382.76,210.21 L383.62,210.20 L384.48,210.19 L385.35,210.17 L386.21,210.15 L387.07,210.12 L387.93,210.07 L388.79,210.02 L389.65,209.94 L390.51,209.85 L391.37,209.72 L392.23,209.56 L393.09,209.35 L393.95,209.08 L394.81,208.75 L395.68,208.33 L396.54,207.81 L397.40,207.18 L398.26,206.40 L399.12,205.47 L399.98,204.36 L400.84,203.03 L401.70,201.48 L402.56,199.67 L403.42,197.58 L404.28,195.19 L405.15,192.48 L406.01,189.45 L406.87,186.08 L407.73,182.37 L408.59,178.34 L409.45,174.00 L410.31,169.38 L411.17,164.52 L412.03,159.46 L412.89,154.27 L413.75,149.01 L414.62,143.77 L415.48,138.61 L416.34,133.64 L417.20,128.94 L418.06,124.61 L418.92,120.72 L419.78,117.36 L420.64,114.59 L421.50,112.49 L422.36,111.10 L423.22,110.44 L424.09,110.53 L424.95,111.38 L425.81,112.95 L426.67,115.22 L427.53,118.14 L428.39,121.64 L429.25,125.65 L430.11,130.09 L430.97,134.86 L431.83,139.89 L432.69,145.07 L433.55,150.33 L434.42,155.58 L435.28,160.74 L436.14,165.75 L437.00,170.56 L437.86,175.11 L438.72,179.38 L439.58,183.33 L440.44,186.95 L441.30,190.24 L442.16,193.19 L443.02,195.81 L443.89,198.13 L444.75,200.14 L445.61,201.89 L446.47,203.38 L447.33,204.65 L448.19,205.72 L449.05,206.61 L449.91,207.35 L450.77,207.95 L451.63,208.44 L452.49,208.84 L453.36,209.16 L454.22,209.41 L455.08,209.60 L455.94,209.76 L456.80,209.87 L457.66,209.96 L458.52,210.03 L459.38,210.09 L460.24,210.12 L461.10,210.15 L461.96,210.17 L462.83,210.19 L463.69,210.20 L464.55,210.21 L465.41,210.22 L466.27,210.22 L467.13,210.22 L467.99,210.22 L468.85,210.23 L469.71,210.23 L470.57,210.23 L471.43,210.23 L472.29,210.23 L473.16,210.23 L474.02,210.23 L474.88,210.23 L475.74,210.23 L476.60,210.23 L477.46,210.23 L478.32,210.23 L479.18,210.23 L480.04,210.23 L480.90,210.23 L481.76,210.23 L482.63,210.23 L483.49,210.23 L484.35,210.23 L485.21,210.23 L486.07,210.23 L486.93,210.23 L487.79,210.23 L488.65,210.23 L489.51,210.23 L490.37,210.23 L491.23,210.23 L492.10,210.23 L492.96,210.23 L493.82,210.23 L494.68,210.23 L495.54,210.23" fill="none" stroke="#1e1ef0" stroke-width="1.2" stroke-dasharray="2.1,1.7"/>
<path d="M323.36,210.23 L324.22,210.23 L325.08,210.23 L325.94,210.23 L326.80,210.23 L327.67,210.23 L328.53,210.23 L329.39,210.23 L330.25,210.23 L331.11,210.23 L331.97,210.23 L332.83,210.23 L333.69,210.23 L334.55,210.23 L335.41,210.23 L336.27,210.23 L337.14,210.23 L338.00,210.23 L338.86,210.23 L339.72,210.23 L340.58,210.23 L341.44,210.23 L342.30,210.23 L343.16,210.23 L344.02,210.23 L344.88,210.23 L345.74,210.23 L346.61,210.23 L347.47,210.23 L348.33,210.23 L349.19,210.23 L350.05,210.23 L350.91,210.23 L351.77,210.23 L352.63,210.23 L353.49,210.23 L354.35,210.23 L355.21,210.23 L356.07,210.23 L356.94,210.23 L357.80,210.23 L358.66,210.23 L359.52,210.23 L360.38,210.23 L361.24,210.23 L362.10,210.23 L362.96,210.22 L363.82,210.22 L364.68,210.22 L365.54,210.22 L366.41,210.22 L367.27,210.22 L368.13,210.22 L368.99,210.22 L369.85,210.21 L370.71,210.21 L371.57,210.21 L372.43,210.21 L373.29,210.20 L374.15,210.20 L375.01,210.19 L375.88,210.19 L376.74,210.18 L377.60,210.18 L378.46,210.17 L379.32,210.16 L380.18,210.15 L381.04,210.14 L381.90,210.13 L382.76,210.11 L383.62,210.10 L384.48,210.08 L385.35,210.06 L386.21,210.04 L387.07,210.01 L387.93,209.99 L388.79,209.96 L389.65,209.92 L390.51,209.88 L391.37,209.84 L392.23,209.80 L393.09,209.75 L393.95,209.69 L394.81,209.63 L395.68,209.56 L396.54,209.48 L397.40,209.40 L398.26,209.31 L399.12,209.21 L399.98,209.11 L400.84,208.99 L401.70,208.87 L402.56,208.73 L403.42,208.58 L404.28,208.42 L405.15,208.25 L406.01,208.06 L406.87,207.86 L407.73,207.64 L408.59,207.41 L409.45,207.16 L410.31,206.90 L411.17,206.62 L412.03,206.32 L412.89,206.00 L413.75,205.66 L414.62,205.30 L415.48,204.93 L416.34,204.53 L417.20,204.11 L418.06,203.67 L418.92,203.20 L419.78,202.72 L420.64,202.21 L421.50,201.68 L422.36,201.13 L423.22,200.56 L424.09,199.97 L424.95,199.35 L425.81,198.72 L426.67,198.07 L427.53,197.40 L428.39,196.71 L429.25,196.00 L430.11,195.28 L430.97,194.55 L431.83,193.81 L432.69,193.05 L433.55,192.29 L434.42,191.51 L435.28,190.74 L436.14,189.96 L437.00,189.18 L437.86,188.40 L438.72,187.63 L439.58,186.86 L440.44,186.10 L441.30,185.36 L442.16,184.62 L443.02,183.91 L443.89,183.21 L444.75,182.54 L445.61,181.89 L446.47,181.26 L447.33,180.67 L448.19,180.11 L449.05,179.58 L449.91,179.08 L450.77,178.63 L451.63,178.21 L452.49,177.84 L453.36,177.51 L454.22,177.22 L455.08,176.98 L455.94,176.79 L456.80,176.64 L457.66,176.54 L458.52,176.49 L459.38,176.49 L460.24,176.49 L461.10,176.51 L461.96,176.55 L462.83,176.62 L463.69,176.72 L464.55,176.86 L465.41,177.03 L466.27,177.26 L467.13,177.54 L467.99,177.87 L468.85,178.26 L469.71,178.71 L470.57,179.22 L471.43,179.80 L472.29,180.44 L473.16,181.14 L474.02,181.90 L474.88,182.72 L475.74,183.60 L476.60,184.53 L477.46,185.51 L478.32,186.53 L479.18,187.59 L480.04,188.68 L480.90,189.80 L481.76,190.93 L482.63,192.07 L483.49,193.22 L484.35,194.36 L485.21,195.49 L486.07,196.60 L486.93,197.68 L487.79,198.74 L488.65,199.75 L489.51,200.72 L490.37,201.65 L491.23,202.52 L492.10,203.35 L492.96,204.11 L493.82,204.83 L494.68,205.48 L495.54,206.08" fill="none" stroke="#1e1ef0" stroke-width="1.2" stroke-dasharray="2.1,1.7"/>
</g>
<circle cx="323.36" cy="201.69" r="2.85" fill="#f01e1e" fill-opacity="0.5" stroke="#f01e1e" stroke-width="1.2"/><circle cx="328.74" cy="195.36" r="2.85" fill="#f01e1e" fill-opacity="0.5" stroke="#f01e1e" stroke-width="1.2"/><circle cx="334.12" cy="194.67" r="2.85" fill="#f01e1e" fill-opacity="0.5" stroke="#f01e1e" stroke-width="1.2"/><circle cx="339.50" cy="195.63" r="2.85" fill="#f01e1e" fill-opacity="0.5" stroke="#f01e1e" stroke-width="1.2"/><circle cx="344.88" cy="190.26" r="2.85" fill="#f01e1e" fill-opacity="0.5" stroke="#f01e1e" stroke-width="1.2"/><circle cx="350.26" cy="194.94" r="2.85" fill="#f01e1e" fill-opacity="0.5" stroke="#f01e1e" stroke-width="1.2"/><circle cx="355.64" cy="190.26" r="2.85" fill="#f01e1e" fill-opacity="0.5" stroke="#f01e1e" stroke-width="1.2"/><circle cx="361.03" cy="170.70" r="2.85" fill="#f01e1e" fill-opacity="0.5" stroke="#f01e1e" stroke-width="1.2"/><circle cx="366.41" cy="164.92" r="2.85" fill="#f01e1e" fill-opacity="0.5" stroke="#f01e1e" stroke-width="1.2"/><circle cx="371.79" cy="147.43" r="2.85" fill="#f01e1e" fill-opacity="0.5" stroke="#f01e1e" stroke-width="1.2"/><circle cx="377.17" cy="151.70" r="2.85" fill="#f01e1e" fill-opacity="0.5" stroke="#f01e1e" stroke-width="1.2"/><circle cx="382.55" cy="143.85" r="2.85" fill="#f01e1e" fill-opacity="0.5" stroke="#f01e1e" stroke-width="1.2"/><circle cx="387.93" cy="137.93" r="2.85" fill="#f01e1e" fill-opacity="0.5" stroke="#f01e1e" stroke-width="1.2"/><circle cx="393.31" cy="129.53" r="2.85" fill="#f01e1e" fill-opacity="0.5" stroke="#f01e1e" stroke-width="1.2"/><circle cx="398.69" cy="135.86" r="2.85" fill="#f01e1e" fill-opacity="0.5" stroke="#f01e1e" stroke-width="1.2"/><circle cx="404.07" cy="137.52" r="2.85" fill="#f01e1e" fill-opacity="0.5" stroke="#f01e1e" stroke-width="1.2"/><circle cx="409.45" cy="119.34" r="2.85" fill="#f01e1e" fill-opacity="0.5" stroke="#f01e1e" stroke-width="1.2"/><circle cx="414.83" cy="75.96" r="2.85" fill="#f01e1e" fill-opacity="0.5" stroke="#f01e1e" stroke-width="1.2"/><circle cx="420.21" cy="59.43" r="2.85" fill="#f01e1e" fill-opacity="0.5" stroke="#f01e1e" stroke-width="1.2"/><circle cx="425.59" cy="82.15" r="2.85" fill="#f01e1e" fill-opacity="0.5" stroke="#f01e1e" stroke-width="1.2"/><circle cx="430.97" cy="95.65" r="2.85" fill="#f01e1e" fill-opacity="0.5" stroke="#f01e1e" stroke-width="1.2"/><circle cx="436.35" cy="124.43" r="2.85" fill="#f01e1e" fill-opacity="0.5" stroke="#f01e1e" stroke-width="1.2"/><circle cx="441.73" cy="148.53" r="2.85" fill="#f01e1e" fill-opacity="0.5" stroke="#f01e1e" stroke-width="1.2"/><circle cx="447.11" cy="160.93" r="2.85" fill="#f01e1e" fill-opacity="0.5" stroke="#f01e1e" stroke-width="1.2"/><circle cx="452.49" cy="178.83" r="2.85" fill="#f01e1e" fill-opacity="0.5" stroke="#f01e1e" stroke-width="1.2"/><circle cx="457.88" cy="181.45" r="2.85" fill="#f01e1e" fill-opacity="0.5" stroke="#f01e1e" stroke-width="1.2"/><circle cx="463.26" cy="176.76" r="2.85" fill="#f01e1e" fill-opacity="0.5" stroke="#f01e1e" stroke-width="1.2"/><circle cx="468.64" cy="178.14" r="2.85" fill="#f01e1e" fill-opacity="0.5" stroke="#f01e1e" stroke-width="1.2"/><circle cx="474.02" cy="179.38" r="2.85" fill="#f01e1e" fill-opacity="0.5" stroke="#f01e1e" stroke-width="1.2"/><circle cx="479.40" cy="193.57" r="2.85" fill="#f01e1e" fill-opacity="0.5" stroke="#f01e1e" stroke-width="1.2"/><circle cx="484.78" cy="196.73" r="2.85" fill="#f01e1e" fill-opacity="0.5" stroke="#f01e1e" stroke-width="1.2"/><circle cx="490.16" cy="198.39" r="2.85" fill="#f01e1e" fill-opacity="0.5" stroke="#f01e1e" stroke-width="1.2"/><circle cx="495.54" cy="206.79" r="2.85" fill="#f01e1e" fill-opacity="0.5" stroke="#f01e1e" stroke-width="1.2"/>
<path d="M323.36,177.87 V201.28 M420.21,41.80 V79.54" stroke="#1e1ef0" stroke-width="1.1"/>
<circle cx="323.36" cy="188.88" r="2.85" fill="#1e1ef0" fill-opacity="0.5" stroke="#1e1ef0" stroke-width="1.2"/><circle cx="328.74" cy="190.26" r="2.85" fill="#1e1ef0" fill-opacity="0.5" stroke="#1e1ef0" stroke-width="1.2"/><circle cx="334.12" cy="205.82" r="2.85" fill="#1e1ef0" fill-opacity="0.5" stroke="#1e1ef0" stroke-width="1.2"/><circle cx="339.50" cy="205.82" r="2.85" fill="#1e1ef0" fill-opacity="0.5" stroke="#1e1ef0" stroke-width="1.2"/><circle cx="344.88" cy="195.63" r="2.85" fill="#1e1ef0" fill-opacity="0.5" stroke="#1e1ef0" stroke-width="1.2"/><circle cx="350.26" cy="191.50" r="2.85" fill="#1e1ef0" fill-opacity="0.5" stroke="#1e1ef0" stroke-width="1.2"/><circle cx="355.64" cy="177.87" r="2.85" fill="#1e1ef0" fill-opacity="0.5" stroke="#1e1ef0" stroke-width="1.2"/><circle cx="361.03" cy="165.47" r="2.85" fill="#1e1ef0" fill-opacity="0.5" stroke="#1e1ef0" stroke-width="1.2"/><circle cx="366.41" cy="153.77" r="2.85" fill="#1e1ef0" fill-opacity="0.5" stroke="#1e1ef0" stroke-width="1.2"/><circle cx="371.79" cy="152.80" r="2.85" fill="#1e1ef0" fill-opacity="0.5" stroke="#1e1ef0" stroke-width="1.2"/><circle cx="377.17" cy="153.08" r="2.85" fill="#1e1ef0" fill-opacity="0.5" stroke="#1e1ef0" stroke-width="1.2"/><circle cx="382.55" cy="130.91" r="2.85" fill="#1e1ef0" fill-opacity="0.5" stroke="#1e1ef0" stroke-width="1.2"/><circle cx="387.93" cy="112.18" r="2.85" fill="#1e1ef0" fill-opacity="0.5" stroke="#1e1ef0" stroke-width="1.2"/><circle cx="393.31" cy="132.97" r="2.85" fill="#1e1ef0" fill-opacity="0.5" stroke="#1e1ef0" stroke-width="1.2"/><circle cx="398.69" cy="137.38" r="2.85" fill="#1e1ef0" fill-opacity="0.5" stroke="#1e1ef0" stroke-width="1.2"/><circle cx="404.07" cy="126.91" r="2.85" fill="#1e1ef0" fill-opacity="0.5" stroke="#1e1ef0" stroke-width="1.2"/><circle cx="409.45" cy="113.28" r="2.85" fill="#1e1ef0" fill-opacity="0.5" stroke="#1e1ef0" stroke-width="1.2"/><circle cx="414.83" cy="93.72" r="2.85" fill="#1e1ef0" fill-opacity="0.5" stroke="#1e1ef0" stroke-width="1.2"/><circle cx="420.21" cy="60.81" r="2.85" fill="#1e1ef0" fill-opacity="0.5" stroke="#1e1ef0" stroke-width="1.2"/><circle cx="425.59" cy="73.48" r="2.85" fill="#1e1ef0" fill-opacity="0.5" stroke="#1e1ef0" stroke-width="1.2"/><circle cx="430.97" cy="94.41" r="2.85" fill="#1e1ef0" fill-opacity="0.5" stroke="#1e1ef0" stroke-width="1.2"/><circle cx="436.35" cy="128.29" r="2.85" fill="#1e1ef0" fill-opacity="0.5" stroke="#1e1ef0" stroke-width="1.2"/><circle cx="441.73" cy="147.57" r="2.85" fill="#1e1ef0" fill-opacity="0.5" stroke="#1e1ef0" stroke-width="1.2"/><circle cx="447.11" cy="169.60" r="2.85" fill="#1e1ef0" fill-opacity="0.5" stroke="#1e1ef0" stroke-width="1.2"/><circle cx="452.49" cy="175.11" r="2.85" fill="#1e1ef0" fill-opacity="0.5" stroke="#1e1ef0" stroke-width="1.2"/><circle cx="457.88" cy="173.18" r="2.85" fill="#1e1ef0" fill-opacity="0.5" stroke="#1e1ef0" stroke-width="1.2"/><circle cx="463.26" cy="181.72" r="2.85" fill="#1e1ef0" fill-opacity="0.5" stroke="#1e1ef0" stroke-width="1.2"/><circle cx="468.64" cy="183.37" r="2.85" fill="#1e1ef0" fill-opacity="0.5" stroke="#1e1ef0" stroke-width="1.2"/><circle cx="474.02" cy="180.76" r="2.85" fill="#1e1ef0" fill-opacity="0.5" stroke="#1e1ef0" stroke-width="1.2"/><circle cx="479.40" cy="185.99" r="2.85" fill="#1e1ef0" fill-opacity="0.5" stroke="#1e1ef0" stroke-width="1.2"/><circle cx="484.78" cy="187.09" r="2.85" fill="#1e1ef0" fill-opacity="0.5" stroke="#1e1ef0" stroke-width="1.2"/><circle cx="490.16" cy="203.21" r="2.85" fill="#1e1ef0" fill-opacity="0.5" stroke="#1e1ef0" stroke-width="1.2"/><circle cx="495.54" cy="207.61" r="2.85" fill="#1e1ef0" fill-opacity="0.5" stroke="#1e1ef0" stroke-width="1.2"/>
<path d="M323.36,206.41 L324.22,206.12 L325.08,205.81 L325.94,205.48 L326.80,205.13 L327.67,204.76 L328.53,204.37 L329.39,203.96 L330.25,203.52 L331.11,203.06 L331.97,202.58 L332.83,202.07 L333.69,201.54 L334.55,200.98 L335.41,200.39 L336.27,199.77 L337.14,199.13 L338.00,198.46 L338.86,197.76 L339.72,197.03 L340.58,196.27 L341.44,195.49 L342.30,194.67 L343.16,193.82 L344.02,192.94 L344.88,192.04 L345.74,191.10 L346.61,190.14 L347.47,189.14 L348.33,188.12 L349.19,187.07 L350.05,185.99 L350.91,184.89 L351.77,183.76 L352.63,182.61 L353.49,181.43 L354.35,180.24 L355.21,179.02 L356.07,177.78 L356.94,176.53 L357.80,175.26 L358.66,173.98 L359.52,172.69 L360.38,171.38 L361.24,170.07 L362.10,168.76 L362.96,167.44 L363.82,166.12 L364.68,164.80 L365.54,163.49 L366.41,162.18 L367.27,160.89 L368.13,159.61 L368.99,158.34 L369.85,157.09 L370.71,155.86 L371.57,154.66 L372.43,153.48 L373.29,152.33 L374.15,151.21 L375.01,150.13 L375.88,149.08 L376.74,148.07 L377.60,147.11 L378.46,146.18 L379.32,145.31 L380.18,144.48 L381.04,143.70 L381.90,142.97 L382.76,142.30 L383.62,141.68 L384.48,141.11 L385.35,140.60 L386.21,140.14 L387.07,139.73 L387.93,139.38 L388.79,139.08 L389.65,138.83 L390.51,138.62 L391.37,138.44 L392.23,138.30 L393.09,138.18 L393.95,138.07 L394.81,137.96 L395.68,137.84 L396.54,137.68 L397.40,137.46 L398.26,137.17 L399.12,136.79 L399.98,136.27 L400.84,135.60 L401.70,134.74 L402.56,133.67 L403.42,132.36 L404.28,130.77 L405.15,128.89 L406.01,126.70 L406.87,124.19 L407.73,121.34 L408.59,118.17 L409.45,114.70 L410.31,110.94 L411.17,106.94 L412.03,102.75 L412.89,98.44 L413.75,94.07 L414.62,89.74 L415.48,85.53 L416.34,81.54 L417.20,77.87 L418.06,74.62 L418.92,71.86 L419.78,69.69 L420.64,68.18 L421.50,67.37 L422.36,67.31 L423.22,68.01 L424.09,69.47 L424.95,71.67 L425.81,74.58 L426.67,78.13 L427.53,82.25 L428.39,86.86 L429.25,91.86 L430.11,97.16 L430.97,102.66 L431.83,108.25 L432.69,113.85 L433.55,119.37 L434.42,124.73 L435.28,129.87 L436.14,134.73 L437.00,139.27 L437.86,143.46 L438.72,147.29 L439.58,150.74 L440.44,153.83 L441.30,156.56 L442.16,158.95 L443.02,161.02 L443.89,162.80 L444.75,164.32 L445.61,165.61 L446.47,166.69 L447.33,167.60 L448.19,168.35 L449.05,168.99 L449.91,169.52 L450.77,169.97 L451.63,170.35 L452.49,170.69 L453.36,170.99 L454.22,171.27 L455.08,171.54 L455.94,171.80 L456.80,172.07 L457.66,172.33 L458.52,172.61 L459.38,172.90 L460.24,173.18 L461.10,173.45 L461.96,173.73 L462.83,174.01 L463.69,174.31 L464.55,174.64 L465.41,174.99 L466.27,175.38 L467.13,175.81 L467.99,176.28 L468.85,176.80 L469.71,177.37 L470.57,178.00 L471.43,178.67 L472.29,179.41 L473.16,180.20 L474.02,181.04 L474.88,181.94 L475.74,182.89 L476.60,183.88 L477.46,184.92 L478.32,185.99 L479.18,187.10 L480.04,188.24 L480.90,189.40 L481.76,190.57 L482.63,191.74 L483.49,192.92 L484.35,194.09 L485.21,195.25 L486.07,196.38 L486.93,197.49 L487.79,198.56 L488.65,199.59 L489.51,200.58 L490.37,201.52 L491.23,202.41 L492.10,203.24 L492.96,204.02 L493.82,204.75 L494.68,205.41 L495.54,206.02" fill="none" stroke="#f01e1e" stroke-width="1.5"/>
<path d="M323.36,207.67 L324.22,207.43 L325.08,207.17 L325.94,206.89 L326.80,206.58 L327.67,206.25 L328.53,205.90 L329.39,205.52 L330.25,205.12 L331.11,204.69 L331.97,204.22 L332.83,203.73 L333.69,203.21 L334.55,202.65 L335.41,202.06 L336.27,201.43 L337.14,200.77 L338.00,200.07 L338.86,199.33 L339.72,198.55 L340.58,197.73 L341.44,196.86 L342.30,195.96 L343.16,195.01 L344.02,194.02 L344.88,192.99 L345.74,191.91 L346.61,190.79 L347.47,189.62 L348.33,188.41 L349.19,187.16 L350.05,185.87 L350.91,184.53 L351.77,183.16 L352.63,181.74 L353.49,180.29 L354.35,178.80 L355.21,177.27 L356.07,175.72 L356.94,174.13 L357.80,172.52 L358.66,170.88 L359.52,169.23 L360.38,167.55 L361.24,165.86 L362.10,164.15 L362.96,162.44 L363.82,160.73 L364.68,159.01 L365.54,157.30 L366.41,155.60 L367.27,153.92 L368.13,152.25 L368.99,150.60 L369.85,148.98 L370.71,147.40 L371.57,145.84 L372.43,144.33 L373.29,142.87 L374.15,141.46 L375.01,140.10 L375.88,138.80 L376.74,137.56 L377.60,136.39 L378.46,135.29 L379.32,134.27 L380.18,133.32 L381.04,132.45 L381.90,131.67 L382.76,130.97 L383.62,130.36 L384.48,129.83 L385.35,129.39 L386.21,129.04 L387.07,128.78 L387.93,128.60 L388.79,128.50 L389.65,128.47 L390.51,128.49 L391.37,128.56 L392.23,128.67 L393.09,128.81 L393.95,128.97 L394.81,129.13 L395.68,129.28 L396.54,129.39 L397.40,129.46 L398.26,129.45 L399.12,129.33 L399.98,129.09 L400.84,128.70 L401.70,128.12 L402.56,127.34 L403.42,126.31 L404.28,125.03 L405.15,123.46 L406.01,121.58 L406.87,119.40 L407.73,116.91 L408.59,114.10 L409.45,111.00 L410.31,107.62 L411.17,104.00 L412.03,100.19 L412.89,96.24 L413.75,92.21 L414.62,88.18 L415.48,84.23 L416.34,80.43 L417.20,76.89 L418.06,73.67 L418.92,70.88 L419.78,68.58 L420.64,66.84 L421.50,65.72 L422.36,65.26 L423.22,65.50 L424.09,66.45 L424.95,68.10 L425.81,70.44 L426.67,73.42 L427.53,76.99 L428.39,81.11 L429.25,85.68 L430.11,90.63 L430.97,95.86 L431.83,101.31 L432.69,106.86 L433.55,112.44 L434.42,117.97 L435.28,123.37 L436.14,128.58 L437.00,133.55 L437.86,138.23 L438.72,142.58 L439.58,146.60 L440.44,150.26 L441.30,153.56 L442.16,156.50 L443.02,159.10 L443.89,161.37 L444.75,163.34 L445.61,165.03 L446.47,166.47 L447.33,167.67 L448.19,168.69 L449.05,169.52 L449.91,170.22 L450.77,170.79 L451.63,171.27 L452.49,171.66 L453.36,172.00 L454.22,172.30 L455.08,172.56 L455.94,172.81 L456.80,173.06 L457.66,173.31 L458.52,173.56 L459.38,173.83 L460.24,174.08 L461.10,174.32 L461.96,174.55 L462.83,174.80 L463.69,175.06 L464.55,175.35 L465.41,175.66 L466.27,176.01 L467.13,176.40 L467.99,176.84 L468.85,177.32 L469.71,177.86 L470.57,178.45 L471.43,179.10 L472.29,179.80 L473.16,180.56 L474.02,181.38 L474.88,182.25 L475.74,183.18 L476.60,184.15 L477.46,185.17 L478.32,186.22 L479.18,187.31 L480.04,188.43 L480.90,189.58 L481.76,190.73 L482.63,191.90 L483.49,193.06 L484.35,194.22 L485.21,195.36 L486.07,196.49 L486.93,197.58 L487.79,198.65 L488.65,199.67 L489.51,200.65 L490.37,201.59 L491.23,202.47 L492.10,203.30 L492.96,204.07 L493.82,204.79 L494.68,205.45 L495.54,206.05" fill="none" stroke="#1e1ef0" stroke-width="1.5"/>
<rect x="312.60" y="31.20" width="193.70" height="192.80" fill="none" stroke="#222" stroke-width="1"/>
<path d="M323.36,224.00 v-3.70 M323.36,31.20 v3.70 M334.12,224.00 v-2.00 M334.12,31.20 v2.00 M344.88,224.00 v-3.70 M344.88,31.20 v3.70 M355.64,224.00 v-2.00 M355.64,31.20 v2.00 M366.41,224.00 v-3.70 M366.41,31.20 v3.70 M377.17,224.00 v-2.00 M377.17,31.20 v2.00 M387.93,224.00 v-3.70 M387.93,31.20 v3.70 M398.69,224.00 v-2.00 M398.69,31.20 v2.00 M409.45,224.00 v-3.70 M409.45,31.20 v3.70 M420.21,224.00 v-2.00 M420.21,31.20 v2.00 M430.97,224.00 v-3.70 M430.97,31.20 v3.70 M441.73,224.00 v-2.00 M441.73,31.20 v2.00 M452.49,224.00 v-3.70 M452.49,31.20 v3.70 M463.26,224.00 v-2.00 M463.26,31.20 v2.00 M474.02,224.00 v-3.70 M474.02,31.20 v3.70 M484.78,224.00 v-2.00 M484.78,31.20 v2.00 M495.54,224.00 v-3.70 M495.54,31.20 v3.70 M312.60,210.23 h4.00 M506.30,210.23 h-4.00 M312.60,196.46 h2.00 M506.30,196.46 h-2.00 M312.60,182.69 h4.00 M506.30,182.69 h-4.00 M312.60,168.91 h2.00 M506.30,168.91 h-2.00 M312.60,155.14 h4.00 M506.30,155.14 h-4.00 M312.60,141.37 h2.00 M506.30,141.37 h-2.00 M312.60,127.60 h4.00 M506.30,127.60 h-4.00 M312.60,113.83 h2.00 M506.30,113.83 h-2.00 M312.60,100.06 h4.00 M506.30,100.06 h-4.00 M312.60,86.29 h2.00 M506.30,86.29 h-2.00 M312.60,72.51 h4.00 M506.30,72.51 h-4.00 M312.60,58.74 h2.00 M506.30,58.74 h-2.00 M312.60,44.97 h4.00 M506.30,44.97 h-4.00 M312.60,31.20 h2.00 M506.30,31.20 h-2.00" stroke="#222" stroke-width="1" fill="none"/>
<text x="308.6" y="214.03" font-size="10.7" text-anchor="end">0</text>
<text x="308.6" y="186.49" font-size="10.7" text-anchor="end">20</text>
<text x="308.6" y="158.94" font-size="10.7" text-anchor="end">40</text>
<text x="308.6" y="131.40" font-size="10.7" text-anchor="end">60</text>
<text x="308.6" y="103.86" font-size="10.7" text-anchor="end">80</text>
<text x="308.6" y="76.31" font-size="10.7" text-anchor="end">100</text>
<text x="308.6" y="48.77" font-size="10.7" text-anchor="end">120</text>
<text x="323.76" y="237.1" font-size="10.7" text-anchor="middle">8</text>
<text x="345.28" y="237.1" font-size="10.7" text-anchor="middle">10</text>
<text x="367.41" y="237.1" font-size="10.7" text-anchor="middle">12</text>
<text x="388.93" y="237.1" font-size="10.7" text-anchor="middle">14</text>
<text x="410.45" y="237.1" font-size="10.7" text-anchor="middle">16</text>
<text x="431.97" y="237.1" font-size="10.7" text-anchor="middle">18</text>
<text x="453.49" y="237.1" font-size="10.7" text-anchor="middle">20</text>
<text x="475.02" y="237.1" font-size="10.7" text-anchor="middle">22</text>
<text x="496.54" y="237.1" font-size="10.7" text-anchor="middle">24</text>
<text x="409.6" y="254.7" font-size="11.2" text-anchor="middle">Energy (meV)</text>
<text transform="translate(286.8,127) rotate(-90)" font-size="11.1" text-anchor="middle">Intensity (counts / 10<tspan font-size="6.5" dy="-4">5</tspan><tspan dy="4"> monitor)</tspan></text>
<text x="319.7" y="48" font-size="11"><tspan font-weight="bold">Q</tspan> = (4,0,-1)</text>
<text x="319.7" y="60.8" font-size="11.1" style="fill:#1e1eb0;color:#1e1eb0">T = 101–115 K</text>
<text x="319.7" y="73.7" font-size="11.1" style="fill:#f81414;color:#f81414">T = 119–131 K</text>
<text x="388.5" y="199.6" font-size="10.8">X<tspan font-size="7.5" dy="3.9">4</tspan></text>
<text x="421.8" y="199.6" font-size="10.8">X<tspan font-size="7.5" dy="3.9">3</tspan></text>
<text x="455.0" y="199.6" font-size="10.8">X<tspan font-size="7.5" dy="3.9">2</tspan></text>
</svg></body></html>
